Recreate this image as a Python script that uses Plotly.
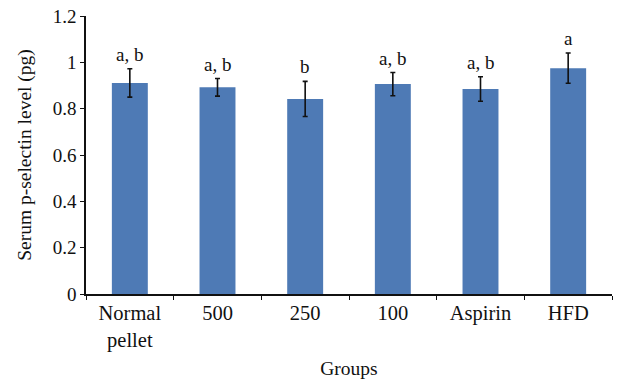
import plotly.graph_objects as go

groups = ["Normal<br>pellet", "500", "250", "100", "Aspirin", "HFD"]
means = [0.911, 0.892, 0.842, 0.906, 0.885, 0.975]
errors = [0.061, 0.038, 0.076, 0.050, 0.053, 0.065]
letters = ["a, b", "a, b", "b", "a, b", "a, b", "a"]

FONT = "Liberation Serif"

fig = go.Figure()
fig.add_trace(go.Bar(
    x=groups, y=means,
    marker=dict(color="#4E7AB5", line=dict(width=0)),
    error_y=dict(type="data", array=errors, visible=True,
                 color="#111111", thickness=1.6, width=2.5),
    showlegend=False,
))

for i, (m, e, t) in enumerate(zip(means, errors, letters)):
    fig.add_annotation(x=i, y=m + e, text=t, showarrow=False,
                       xref="x", yref="y",
                       yanchor="bottom", yshift=2,
                       font=dict(family=FONT, size=19, color="#111111"))

fig.update_layout(
    width=617, height=381,
    margin=dict(l=86, r=5, t=16, b=87, autoexpand=False),
    paper_bgcolor="white", plot_bgcolor="white",
    bargap=0.59,
    font=dict(family=FONT, color="#111111"),
)
fig.update_xaxes(
    type="category", categoryorder="array", categoryarray=groups,
    range=[-0.5, 5.5], automargin=False,
    showline=True, linecolor="#111111", linewidth=1.5,
    ticks="outside", tickson="boundaries", ticklen=4, tickcolor="#111111", tickwidth=1,
    tickangle=0,
    tickfont=dict(family=FONT, size=20.5, color="#111111"),
    title=dict(text="Groups", font=dict(family=FONT, size=19.5, color="#111111"), standoff=10),
    showgrid=False, zeroline=False,
)
fig.update_yaxes(
    range=[0, 1.2], dtick=0.2, tick0=0, automargin=False,
    showline=True, linecolor="#111111", linewidth=1.5,
    ticks="outside", ticklen=4, tickcolor="#111111", tickwidth=1,
    tickfont=dict(family=FONT, size=19, color="#111111"),
    title=dict(text="Serum p-selectin level (pg)", font=dict(family=FONT, size=19.5, color="#111111"), standoff=16),
    showgrid=False, zeroline=False,
)

fig.write_html("out.html", config={"displayModeBar": False},
               post_script="document.body.style.margin='0';")
